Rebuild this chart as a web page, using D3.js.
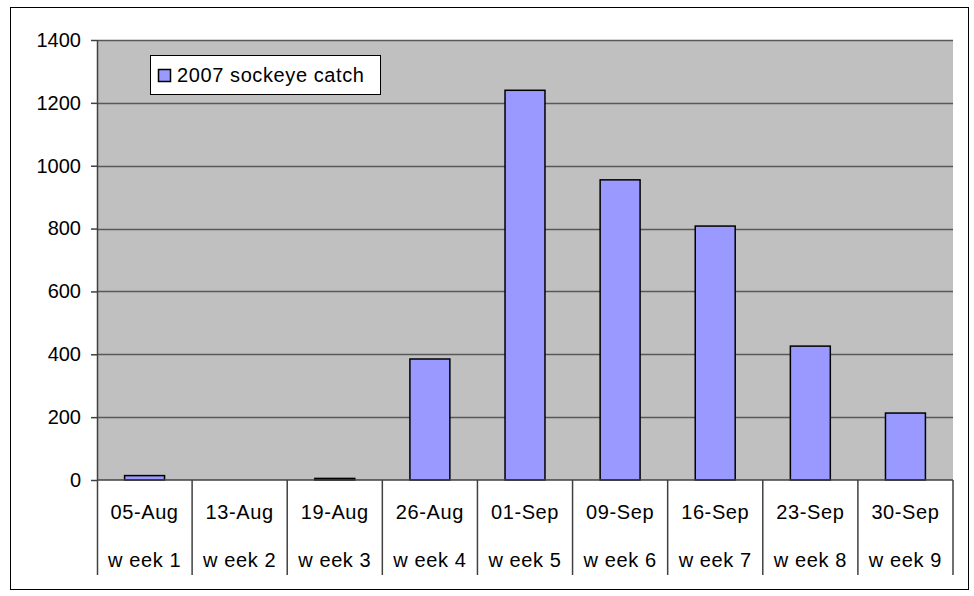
<!DOCTYPE html>
<html>
<head>
<meta charset="utf-8">
<script src="https://cdn.jsdelivr.net/npm/d3@7/dist/d3.min.js"></script>
<style>
  body { margin: 0; background: #fff; }
  text { font-family: "Liberation Sans", Arial, sans-serif; fill: #000; }
</style>
</head>
<body>
<div id="chart"></div>
<script>
var dates = ['05-Aug', '13-Aug', '19-Aug', '26-Aug', '01-Sep', '09-Sep', '16-Sep', '23-Sep', '30-Sep'];
var weeks = ['w eek 1', 'w eek 2', 'w eek 3', 'w eek 4', 'w eek 5', 'w eek 6', 'w eek 7', 'w eek 8', 'w eek 9'];
var catch2007 = [14, 0, 5, 385, 1240, 955, 808, 426, 213];
var yTicks = [0, 200, 400, 600, 800, 1000, 1200, 1400];
var seriesName = '2007 sockeye catch';

var W = 974, H = 596;
var margin = {top: 40, right: 21, bottom: 116, left: 97},
    width = W - margin.left - margin.right,
    height = H - margin.top - margin.bottom;

var svg = d3.select('#chart').append('svg')
    .attr('width', W)
    .attr('height', H);

// outer chart border
svg.append('rect')
   .attr('x', 10.5).attr('y', 7.5)
   .attr('width', 958).attr('height', 582)
   .style('fill', '#fff')
   .style('stroke', '#000')
   .style('stroke-width', 1);

var g = svg.append('g').attr('transform', 'translate(' + margin.left + ',' + margin.top + ')');

var xScale = d3.scaleBand().domain(dates).range([0, width]).paddingInner(0.58).paddingOuter(0.29);
var xCat = d3.scaleBand().domain(dates).range([0, width]);
var yScale = d3.scaleLinear().domain([0, 1400]).range([height, 0]);

// plot area
g.append('rect')
 .attr('width', width).attr('height', height)
 .style('fill', '#c0c0c0');

// gridlines
g.selectAll('.grid').data(yTicks.slice(1)).enter().append('line')
 .attr('x1', 0).attr('x2', width)
 .attr('y1', d => Math.round(yScale(d)) + 0.5).attr('y2', d => Math.round(yScale(d)) + 0.5)
 .style('stroke', '#585858').style('stroke-width', 1.5);

// bars
g.selectAll('.bar').data(catch2007).enter().append('rect')
 .attr('x', (d, i) => xScale(dates[i]))
 .attr('y', d => yScale(d))
 .attr('width', xScale.bandwidth())
 .attr('height', d => height - yScale(d))
 .style('fill', '#9999ff')
 .style('stroke', '#000')
 .style('stroke-width', 1.5);

// y axis
var yAxis = d3.axisLeft(yScale).tickValues(yTicks).tickFormat(d3.format('d')).tickSize(6).tickPadding(10);
var ya = g.append('g').call(yAxis);
ya.select('.domain').remove();
ya.selectAll('line').style('stroke', '#404040').style('stroke-width', 1.5);
ya.selectAll('text').style('font-size', '20px');
g.append('line').attr('x1', 0.5).attr('x2', 0.5).attr('y1', 0).attr('y2', height + 95)
 .style('stroke', '#404040').style('stroke-width', 1.5);

// x axis line and category dividers
g.append('line').attr('x1', 0).attr('x2', width).attr('y1', height).attr('y2', height)
 .style('stroke', '#404040').style('stroke-width', 1.5);
g.selectAll('.div').data(dates).enter().append('line')
 .attr('x1', d => xCat(d) + xCat.bandwidth()).attr('x2', d => xCat(d) + xCat.bandwidth())
 .attr('y1', height).attr('y2', height + 95)
 .style('stroke', '#404040').style('stroke-width', 1.5);

// two-level category labels
g.selectAll('.lab1').data(dates).enter().append('text')
 .attr('x', d => xCat(d) + xCat.bandwidth() / 2)
 .attr('y', height + 39)
 .attr('text-anchor', 'middle')
 .style('font-size', '20px')
 .style('letter-spacing', '0.6px')
 .text(d => d);
g.selectAll('.lab2').data(weeks).enter().append('text')
 .attr('x', (d, i) => xCat(dates[i]) + xCat.bandwidth() / 2)
 .attr('y', height + 87)
 .attr('text-anchor', 'middle')
 .style('font-size', '20px')
 .style('letter-spacing', '0.6px')
 .text(d => d);

// legend
var legend = svg.append('g').attr('transform', 'translate(150,55)');
legend.append('rect').attr('x', 0.5).attr('y', 0.5).attr('width', 230).attr('height', 39)
 .style('fill', '#fff').style('stroke', '#000').style('stroke-width', 1);
legend.append('rect').attr('x', 8.5).attr('y', 14.5).attr('width', 12).attr('height', 12)
 .style('fill', '#9999ff').style('stroke', '#000').style('stroke-width', 1.5);
legend.append('text').attr('x', 27).attr('y', 27)
 .style('font-size', '20px')
 .style('letter-spacing', '0.6px')
 .text(seriesName);
</script>
</body>
</html>
